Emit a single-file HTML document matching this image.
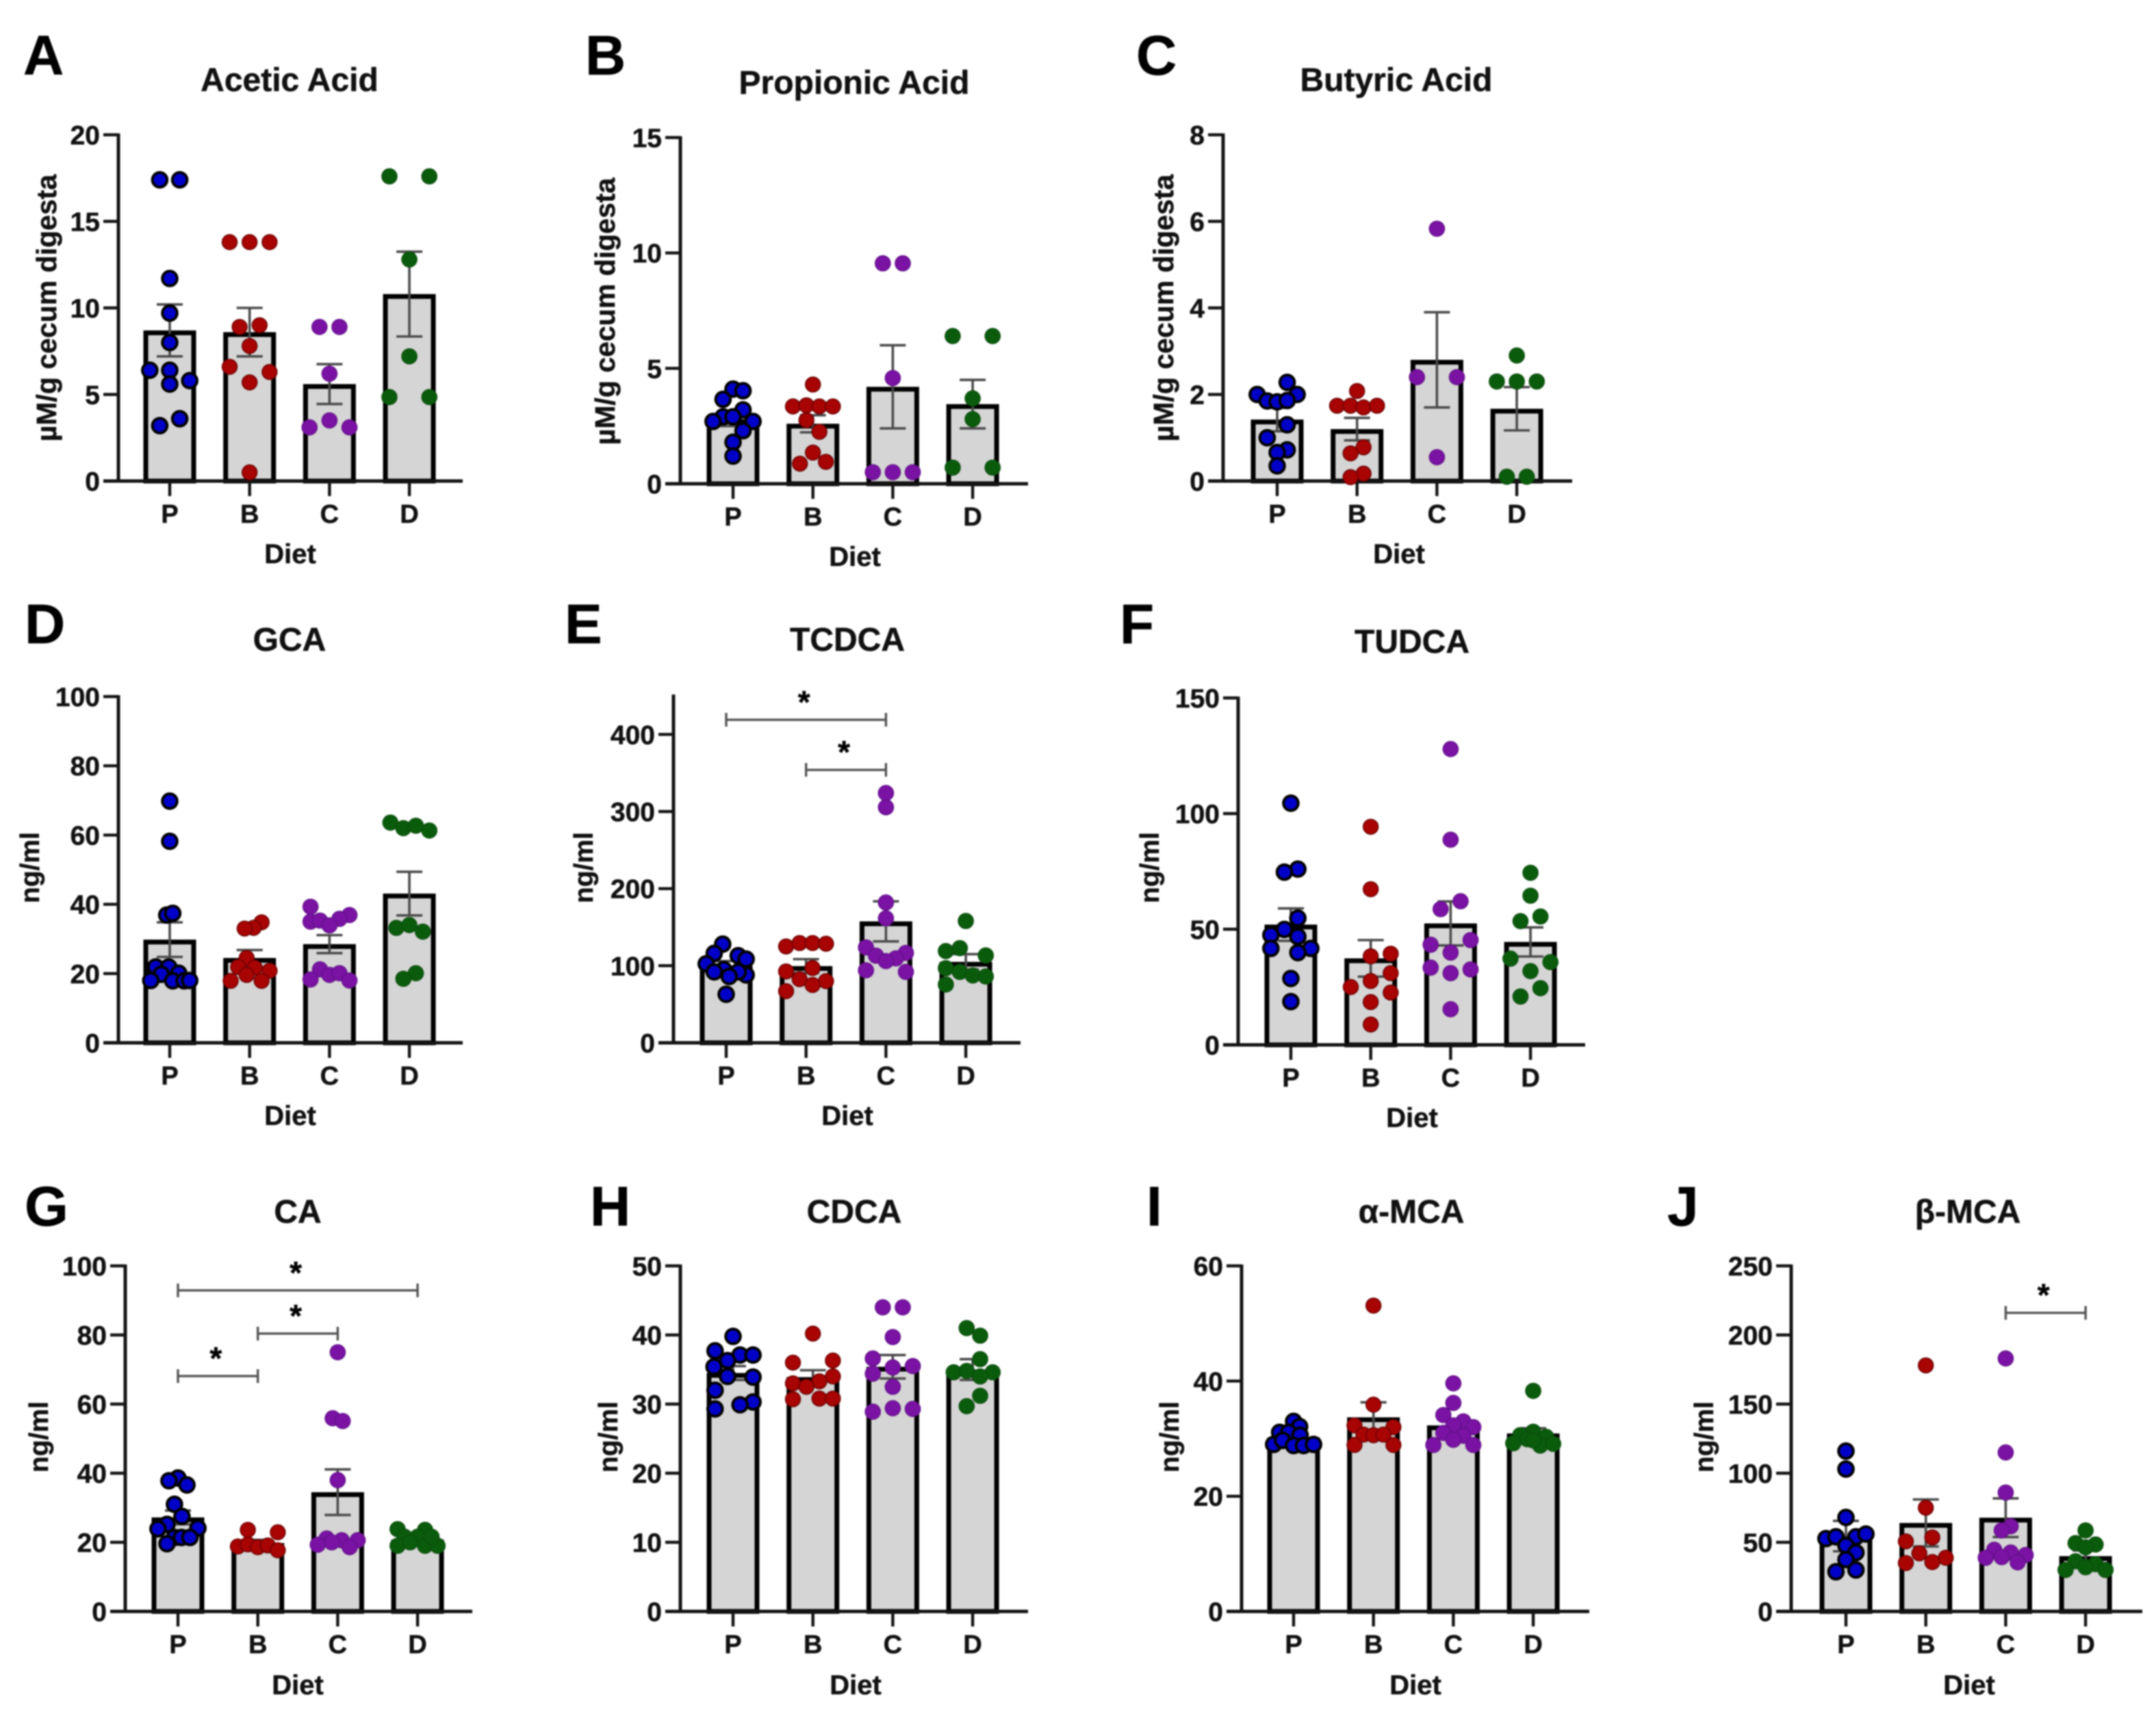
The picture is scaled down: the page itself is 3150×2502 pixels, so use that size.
<!DOCTYPE html>
<html lang="en">
<head>
<meta charset="utf-8">
<title>Cecal short-chain fatty acids and bile acids by diet</title>
<style>
html,body{margin:0;padding:0;background:#fff;width:3150px;height:2502px;overflow:hidden}
svg{display:block;filter:blur(1.1px)}
text{font-family:"Liberation Sans",sans-serif;font-weight:bold;fill:#111;stroke:#111;stroke-width:.5px}
.letter{font-size:82px;fill:#000;stroke:#000}
.title{font-size:48px;text-anchor:middle}
.ytitle{font-size:41px;text-anchor:middle}
.ngtitle{font-size:39px;text-anchor:middle}
.diet{font-size:40px;text-anchor:middle}
.tick{font-size:39px;text-anchor:end}
.cat{font-size:38px;text-anchor:middle}
.star{font-size:46px;text-anchor:middle;fill:#000}
</style>
</head>
<body>
<svg id="figure" xmlns="http://www.w3.org/2000/svg" width="3150" height="2502" viewBox="0 0 3150 2502">
<rect width="3150" height="2502" fill="#ffffff"/>

<g id="panel-a">
<text class="letter" x="34" y="109">A</text>
<text class="title" x="423" y="133">Acetic Acid</text>
<text class="ytitle" transform="translate(82 450) rotate(-90)">µM/g cecum digesta</text>
<text class="diet" x="424" y="823">Diet</text>
</g>
<g id="panel-b">
<text class="letter" x="855" y="109">B</text>
<text class="title" x="1248" y="137">Propionic Acid</text>
<text class="ytitle" transform="translate(898 455) rotate(-90)">µM/g cecum digesta</text>
<text class="diet" x="1249" y="827">Diet</text>
</g>
<g id="panel-c">
<text class="letter" x="1660" y="109">C</text>
<text class="title" x="2040" y="133">Butyric Acid</text>
<text class="ytitle" transform="translate(1714 450) rotate(-90)">µM/g cecum digesta</text>
<text class="diet" x="2044" y="823">Diet</text>
</g>
<g id="panel-d">
<text class="letter" x="36" y="940">D</text>
<text class="title" x="423" y="951">GCA</text>
<text class="ngtitle" transform="translate(57 1268) rotate(-90)">ng/ml</text>
<text class="diet" x="424" y="1644">Diet</text>
</g>
<g id="panel-e">
<text class="letter" x="825" y="940">E</text>
<text class="title" x="1238" y="951">TCDCA</text>
<text class="ngtitle" transform="translate(866 1268) rotate(-90)">ng/ml</text>
<text class="diet" x="1238" y="1644">Diet</text>
</g>
<g id="panel-f">
<text class="letter" x="1636" y="940">F</text>
<text class="title" x="2063" y="954">TUDCA</text>
<text class="ngtitle" transform="translate(1693 1268) rotate(-90)">ng/ml</text>
<text class="diet" x="2063" y="1647">Diet</text>
</g>
<g id="panel-g">
<text class="letter" x="36" y="1791">G</text>
<text class="title" x="435" y="1787">CA</text>
<text class="ngtitle" transform="translate(70 2100) rotate(-90)">ng/ml</text>
<text class="diet" x="435" y="2476">Diet</text>
</g>
<g id="panel-h">
<text class="letter" x="862" y="1791">H</text>
<text class="title" x="1248" y="1787">CDCA</text>
<text class="ngtitle" transform="translate(902 2100) rotate(-90)">ng/ml</text>
<text class="diet" x="1250" y="2476">Diet</text>
</g>
<g id="panel-i">
<text class="letter" x="1675" y="1791">I</text>
<text class="title" x="2062" y="1787">α-MCA</text>
<text class="ngtitle" transform="translate(1722 2100) rotate(-90)">ng/ml</text>
<text class="diet" x="2068" y="2476">Diet</text>
</g>
<g id="panel-j">
<text class="letter" x="2436" y="1791">J</text>
<text class="title" x="2875" y="1787">β-MCA</text>
<text class="ngtitle" transform="translate(2503 2100) rotate(-90)">ng/ml</text>
<text class="diet" x="2877" y="2476">Diet</text>
</g>
</svg>

<script>
/* ---------- shared categories ---------- */
const categories = ['P', 'B', 'C', 'D'];

/* ---------- acetic acid ---------- */
const aceticTicks = [0, 5, 10, 15, 20];
const aceticMeans = [8.7, 8.6, 5.6, 10.8];
const aceticSems = [1.5, 1.4, 1.15, 2.45];
const aceticP = [17.4, 17.4, 11.7, 9.7, 8.0, 6.4, 6.4, 5.8, 5.6, 3.6, 3.2];
const aceticB = [13.8, 13.8, 13.8, 8.9, 9.0, 7.8, 6.6, 6.3, 5.7, 0.5];
const aceticC = [8.9, 8.9, 6.2, 3.5, 3.1, 3.1];
const aceticD = [17.6, 17.6, 12.8, 7.2, 4.85, 4.85];

/* ---------- propionic acid ---------- */
const propionicTicks = [0, 5, 10, 15];
const propionicMeans = [2.8, 2.6, 4.2, 3.45];
const propionicSems = [0.3, 0.37, 1.8, 1.05];
const propionicP = [4.1, 4.03, 3.66, 3.2, 2.9, 2.9, 2.7, 2.7, 2.3, 1.8, 1.2];
const propionicB = [4.3, 3.35, 3.4, 3.35, 3.35, 2.75, 2.25, 1.35, 0.87, 0.95];
const propionicC = [9.55, 9.55, 4.58, 0.5, 0.5, 0.5];
const propionicD = [6.4, 6.4, 3.7, 2.8, 0.7, 0.7];

/* ---------- butyric acid ---------- */
const butyricTicks = [0, 2, 4, 6, 8];
const butyricMeans = [1.42, 1.2, 2.8, 1.67];
const butyricSems = [0.27, 0.26, 1.1, 0.5];
const butyricP = [2.28, 2.0, 2.0, 1.85, 1.83, 1.86, 1.3, 1.0, 0.72, 0.66, 0.35];
const butyricB = [2.08, 1.74, 1.74, 1.7, 1.74, 0.78, 0.64, 0.17, 0.09];
const butyricC = [5.83, 2.4, 2.4, 0.55];
const butyricD = [2.9, 2.3, 2.3, 2.3, 0.1, 0.1];

/* ---------- GCA ---------- */
const gcaTicks = [0, 20, 40, 60, 80, 100];
const gcaMeans = [29.8, 24.5, 28.5, 43.1];
const gcaSems = [5, 2.3, 2.6, 6.3];
const gcaP = [69.8, 58.2, 36.9, 37.4, 21.9, 21.9, 19.8, 20.1, 18, 17.9, 17.9, 18];
const gcaB = [34.8, 33.2, 33, 24.5, 21.9, 21.7, 19.6, 20.8, 17.9, 17.9];
const gcaC = [39.3, 36.9, 35.8, 35, 35.3, 33.9, 21.2, 19.6, 20.1, 18.3, 18];
const gcaD = [63.6, 62, 62.7, 61.3, 33.2, 34, 32.1, 20.1, 18.5];

/* ---------- TCDCA ---------- */
const tcdcaTicks = [0, 100, 200, 300, 400];
const tcdcaMeans = [100, 99.5, 157.5, 105];
const tcdcaSems = [6, 9, 26, 10];
const tcdcaP = [128, 116, 113, 108.6, 102.5, 95, 92, 88, 92, 86, 63];
const tcdcaB = [125, 129.4, 129.4, 128.5, 97, 92.6, 82.6, 80, 75, 67];
const tcdcaC = [324, 305.5, 182, 161.5, 123.7, 116.6, 113, 109.6, 106, 94, 92];
const tcdcaD = [158, 119, 122.8, 113.3, 96.8, 92, 87.4, 86, 75.6];
const tcdcaBrackets = [[0, 2, 419], [1, 2, 354]];

/* ---------- TUDCA ---------- */
const tudcaTicks = [0, 50, 100, 150];
const tudcaMeans = [52, 37.4, 52.5, 44.5];
const tudcaSems = [7, 7.9, 9.5, 6.3];
const tudcaP = [104.5, 76, 74.7, 54.8, 49.9, 47.5, 46.8, 41.7, 41.7, 39.9, 28.7, 18.7];
const tudcaB = [94.3, 67.3, 39.4, 38.3, 31, 27.6, 25, 22.6, 18.5, 8.8];
const tudcaC = [127.9, 88.7, 62.1, 58.7, 43.3, 45.3, 39.9, 33.4, 32.6, 31, 15.4];
const tudcaD = [74.4, 64.5, 55.5, 53.5, 37.3, 35.8, 31.9, 24.5, 20.9];

/* ---------- CA ---------- */
const caTicks = [0, 20, 40, 60, 80, 100];
const caMeans = [27.2, 19.8, 34.5, 20.8];
const caSems = [2, 0.9, 6.6, 0.8];
const caP = [38.6, 37.8, 36.6, 31, 27.5, 25.2, 23.9, 24.1, 21.4, 21.4, 21.4, 19.6];
const caB = [23.6, 22.9, 18.8, 19.4, 18.6, 19.1, 17.7];
const caC = [75, 55.9, 55.1, 38, 21.1, 20.6, 20.6, 20, 19.3, 18.6];
const caD = [23.8, 23.6, 21.6, 21.6, 19, 20, 19, 19, 21.6];
const caBrackets = [[0, 3, 92.9], [1, 2, 80.4], [0, 1, 68.1]];

/* ---------- CDCA ---------- */
const cdcaTicks = [0, 10, 20, 30, 40, 50];
const cdcaMeans = [34.5, 33.9, 35.4, 35];
const cdcaSems = [1, 1, 1.7, 1.5];
const cdcaP = [39.8, 37.7, 37.1, 37.1, 36.3, 35.4, 34, 33.9, 32, 30.3, 29.9, 29.3];
const cdcaB = [40.2, 36, 36.3, 34, 33.3, 33, 32.5, 30.7, 30.8, 30.8];
const cdcaC = [44, 44, 39.7, 36.6, 35.5, 35.3, 34.4, 32.5, 28.9, 29.4, 29.3];
const cdcaD = [41, 39.9, 36.5, 34.6, 34.8, 34.6, 34, 31.2, 29.7];

/* ---------- alpha-MCA ---------- */
const alphaTicks = [0, 20, 40, 60];
const alphaMeans = [30.2, 33.7, 32.3, 30.9];
const alphaSems = [1, 2.6, 1, 0.9];
const alphaP = [33, 31.1, 32.1, 31.1, 30.6, 29, 29.7, 28.8, 28.8, 29];
const alphaB = [53.1, 35.9, 32.3, 32, 30.7, 30.6, 30.7, 28.9, 28.9];
const alphaC = [39.6, 36.2, 34.1, 33, 32.3, 32, 31, 30.5, 29.8, 28.9, 28.9];
const alphaD = [38.3, 31.2, 30.6, 30.3, 29.9, 29.2, 28.8, 29.1, 29.7];

/* ---------- beta-MCA ---------- */
const betaTicks = [0, 50, 100, 150, 200, 250];
const betaMeans = [54.5, 64, 67.8, 40];
const betaSems = [11, 17, 14, 4];
const betaP = [116, 103, 68, 52.7, 54, 54, 56, 47.7, 42.6, 37.5, 28.7, 30];
const betaB = [178, 75, 53.5, 50.7, 42, 38.8, 35.7, 35];
const betaC = [183, 115, 86, 61.6, 58.6, 44.6, 42.6, 40.8, 39.3, 38.8, 35.5];
const betaD = [58.6, 49.4, 48.4, 46.4, 36.3, 34.2, 32, 30, 30];
const betaBrackets = [[2, 3, 216]];

/* ---------- swarm slots: sideways nudge of each dot, counted in dot-slots from the bar centre ---------- */
const swarmAcetic = [[-1,1,0,0,0,-2,0,2,0,1,-1],[-2,0,2,-1,1,0,-2,2,0,0],[-1,1,0,0,-2,2],[-2,2,0,0,-2,2]];
const swarmPropionic = [[0,1,-1,1,-1,0,-2,2,1,0,0],[0,-2,-.65,.65,2,-.65,.65,0,-1.3,1.3],[-1,1,0,-2,0,2],[-2,2,0,0,-2,2]];
const swarmButyric = [[1,-2,2,-1,0,1,1,-1,1,0,0],[0,-2,-.65,.65,2,.65,-.65,.65,-.65],[0,-2,2,0],[0,-2,0,2,-1,1]];
const swarmGca = [[0,0,-.3,.3,-1.4,-.1,-.85,.9,-1.9,.3,1.45,2],[1.2,.4,-.5,-.3,-1.15,.5,-.3,2,-1.9,1.2],[-1.9,2,1,-1.9,-.95,0,-.95,0,1,-1.9,2],[-1.9,-.6,.65,2,-1.3,0,1.35,.65,-.6]];
const swarmTcdca = [[-.35,-1.2,1.2,2,-2,-.25,-1.2,2,1.2,.3,0],[-2,-.65,.65,2,.65,-2,-.65,2,.65,-2],[0,0,0,0,-2,2,-1,1,0,-2,2],[0,-2,-.6,2,-2,-.6,.7,2,-2]];
const swarmTudca = [[0,.7,-.65,.7,-.65,-2,.7,-2,2,.7,0,0],[0,0,2,0,2,0,-2,2,0,0],[0,0,1,-1,-2,2,0,-2,2,0,0],[0,0,1,-1,-2,2,0,1,-1]];
const swarmCa = [[0,-.9,.9,-.35,.4,-1.1,-2,2,-.35,.35,1.2,-1.1],[-1,2,-2,-1,0,1,2],[0,-.5,.5,0,-1.1,2,.4,-.6,-2,1.2],[-2,.75,-1.3,0,-2,-.75,.75,2,1.4]];
const swarmCdca = [[0,-1.8,.7,2,-.55,-1.9,-.55,2,-1.8,2,.7,-1.8],[0,-2,2,2,.65,-2,-.65,-2,.65,2],[-1,1,0,-2,2,0,-2,0,-2,0,2],[-.6,.75,.75,-1.9,-.6,2,.75,.75,-.6]];
const swarmAlpha = [[0,-1.4,.6,-.5,.65,-2,-1.1,0,1,2],[0,0,-1.9,2,-1,0,1,-1.9,2],[0,0,-1,1,0,2,-1,1,0,-2,2],[0,0,-1.3,1.3,-.6,-2,.7,2,0]];
const swarmBeta = [[0,0,0,-2,-1,1,2,0,1,0,-1,1],[0,0,.65,-2,-.65,2,.65,-2],[0,0,0,.5,-.4,-1.15,.5,2,-.4,-2,1.2],[0,-1,1,0,-1,1,0,-2,2]];

/* ---------- layout (pixels, independent of the data) ---------- */
const CAT_STEP = 116.7;
const SVG_NS = 'http://www.w3.org/2000/svg';
const groupFill = ['#0000c8', '#a80404', '#7a12a4', '#0a5c0c'];
const groupStroke = ['#000000', '#6e0000', '#5e1084', '#0a4a0c'];
const groupStrokeWidth = [4, 1.6, 1.2, 1.2];
const groupRadius = [10.8, 10.9, 11.2, 11.2];

function el(tag, attrs, parent) {
  const node = document.createElementNS(SVG_NS, tag);
  for (const key in attrs) node.setAttribute(key, attrs[key]);
  parent.appendChild(node);
  return node;
}

function drawPanel(spec) {
  const root = document.getElementById(spec.id);
  const yOf = v => spec.y0 - v * (spec.y0 - spec.top) / spec.max;
  const xOf = i => spec.cat0 + i * CAT_STEP;
  const slotPx = CAT_STEP / 8;

  /* bars */
  spec.means.forEach((m, i) => {
    const bar = el('rect', {x: xOf(i) - 35, y: yOf(m) + 3.5, width: 70, height: Math.max(0, spec.y0 - yOf(m) - 3.5), fill: '#d5d5d5', stroke: '#000', 'stroke-width': 7}, root);
    
    
  });

  /* error bars */
  spec.means.forEach((m, i) => {
    const hi = yOf(m + spec.sems[i]);
    const lo = yOf(m - spec.sems[i]);
    const x = xOf(i);
    const err = el('path', {d: 'M' + (x - 19) + ' ' + hi + 'H' + (x + 19) + 'M' + x + ' ' + hi + 'V' + lo + 'M' + (x - 19) + ' ' + lo + 'H' + (x + 19), fill: 'none', stroke: '#4a4a4a', 'stroke-width': 3.6}, root);
    
    
  });

  /* axes */
  const axisY = el('line', {x1: spec.axis, x2: spec.axis, y1: spec.top - 2, y2: spec.y0 + 2, stroke: '#141414', 'stroke-width': 5}, root);
  
  
  const axisX = el('line', {x1: spec.axis - 22, x2: spec.right, y1: spec.y0, y2: spec.y0, stroke: '#141414', 'stroke-width': 5}, root);
  
  

  spec.ticks.forEach(t => {
    const y = yOf(t);
    const mark = el('line', {x1: spec.axis - 22, x2: spec.axis, y1: y, y2: y, stroke: '#141414', 'stroke-width': 4.4}, root);
    
    
    const label = el('text', {class: 'tick', x: spec.axis - 27, y: y + 14}, root);
    label.textContent = String(t);
    
    
  });

  categories.forEach((c, i) => {
    const x = xOf(i);
    const mark = el('line', {x1: x, x2: x, y1: spec.y0, y2: spec.y0 + 22, stroke: '#141414', 'stroke-width': 4.4}, root);
    
    
    const label = el('text', {class: 'cat', x: x, y: spec.y0 + 61}, root);
    label.textContent = c;
    
    
  });

  /* points */
  spec.values.forEach((list, g) => {
    list.forEach((v, k) => {
      const dot = el('circle', {cx: xOf(g) + spec.slots[g][k] * slotPx, cy: yOf(v), r: groupRadius[g], fill: groupFill[g], stroke: groupStroke[g], 'stroke-width': groupStrokeWidth[g]}, root);
      
      
    });
  });

  /* significance brackets */
  (spec.brackets || []).forEach(b => {
    const xa = xOf(b[0]);
    const xb = xOf(b[1]);
    const y = yOf(b[2]);
    const line = el('path', {d: 'M' + xa + ' ' + (y - 10) + 'V' + (y + 10) + 'M' + xa + ' ' + y + 'H' + xb + 'M' + xb + ' ' + (y - 10) + 'V' + (y + 10), fill: 'none', stroke: '#555', 'stroke-width': 3.4}, root);
    
    
    const star = el('text', {class: 'star', x: (xa + xb) / 2 - 3, y: y - 10}, root);
    star.textContent = '*';
    
    
  });
}

drawPanel({id: 'panel-a', axis: 173, cat0: 248, top: 197, y0: 703, right: 676, max: 20, ticks: aceticTicks, means: aceticMeans, sems: aceticSems, values: [aceticP, aceticB, aceticC, aceticD], slots: swarmAcetic});
drawPanel({id: 'panel-b', axis: 994, cat0: 1071, top: 201, y0: 707, right: 1502, max: 15, ticks: propionicTicks, means: propionicMeans, sems: propionicSems, values: [propionicP, propionicB, propionicC, propionicD], slots: swarmPropionic});
drawPanel({id: 'panel-c', axis: 1787, cat0: 1866, top: 197, y0: 703, right: 2297, max: 8, ticks: butyricTicks, means: butyricMeans, sems: butyricSems, values: [butyricP, butyricB, butyricC, butyricD], slots: swarmButyric});
drawPanel({id: 'panel-d', axis: 173, cat0: 248, top: 1018, y0: 1524, right: 676, max: 100, ticks: gcaTicks, means: gcaMeans, sems: gcaSems, values: [gcaP, gcaB, gcaC, gcaD], slots: swarmGca});
drawPanel({id: 'panel-e', axis: 984, cat0: 1061, top: 1017, y0: 1524, right: 1491, max: 450, ticks: tcdcaTicks, means: tcdcaMeans, sems: tcdcaSems, values: [tcdcaP, tcdcaB, tcdcaC, tcdcaD], slots: swarmTcdca, brackets: tcdcaBrackets});
drawPanel({id: 'panel-f', axis: 1809, cat0: 1886, top: 1020, y0: 1527, right: 2316, max: 150, ticks: tudcaTicks, means: tudcaMeans, sems: tudcaSems, values: [tudcaP, tudcaB, tudcaC, tudcaD], slots: swarmTudca});
drawPanel({id: 'panel-g', axis: 183, cat0: 260, top: 1850, y0: 2355, right: 690, max: 100, ticks: caTicks, means: caMeans, sems: caSems, values: [caP, caB, caC, caD], slots: swarmCa, brackets: caBrackets});
drawPanel({id: 'panel-h', axis: 994, cat0: 1071, top: 1850, y0: 2355, right: 1502, max: 50, ticks: cdcaTicks, means: cdcaMeans, sems: cdcaSems, values: [cdcaP, cdcaB, cdcaC, cdcaD], slots: swarmCdca});
drawPanel({id: 'panel-i', axis: 1814, cat0: 1890, top: 1850, y0: 2355, right: 2322, max: 60, ticks: alphaTicks, means: alphaMeans, sems: alphaSems, values: [alphaP, alphaB, alphaC, alphaD], slots: swarmAlpha});
drawPanel({id: 'panel-j', axis: 2617, cat0: 2697, top: 1850, y0: 2355, right: 3130, max: 250, ticks: betaTicks, means: betaMeans, sems: betaSems, values: [betaP, betaB, betaC, betaD], slots: swarmBeta, brackets: betaBrackets});
</script>
</body>
</html>
